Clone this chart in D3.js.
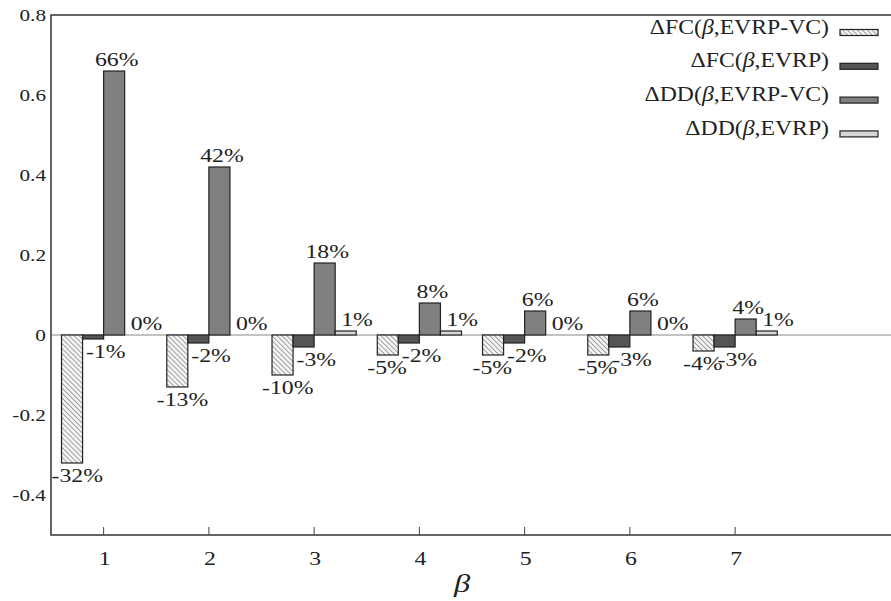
<!DOCTYPE html>
<html>
<head>
<meta charset="utf-8">
<script src="https://cdn.jsdelivr.net/npm/d3@7"></script>
<style>
  body { margin: 0; background: #fff; }
  text { font-family: "Liberation Serif", serif; fill: #222; }
</style>
</head>
<body>
<div id="chart"></div>
<script>
// data
var betas = [1, 2, 3, 4, 5, 6, 7];
var seriesNames = ["ΔFC(β,EVRP-VC)", "ΔFC(β,EVRP)", "ΔDD(β,EVRP-VC)", "ΔDD(β,EVRP)"];
var fcVC   = [-0.32, -0.13, -0.10, -0.05, -0.05, -0.05, -0.04];
var fcEVRP = [-0.01, -0.02, -0.03, -0.02, -0.02, -0.03, -0.03];
var ddVC   = [0.66, 0.42, 0.18, 0.08, 0.06, 0.06, 0.04];
var ddEVRP = [0.00, 0.00, 0.01, 0.01, 0.00, 0.00, 0.01];
var yTicks = [-0.4, -0.2, 0, 0.2, 0.4, 0.6, 0.8];

var allSeries = [fcVC, fcEVRP, ddVC, ddEVRP];

var W = 891, H = 601;
var pLeft = 51, pTop = 15, pBottom = 535, pRight = 893;
var stretch = 1.25; // the TeX font is wider than Times

var svg = d3.select('#chart').append('svg')
  .attr('width', W)
  .attr('height', H);

var defs = svg.append('defs');
var pat = defs.append('pattern')
  .attr('id', 'hatch')
  .attr('patternUnits', 'userSpaceOnUse')
  .attr('width', 3.5).attr('height', 3.5)
  .attr('patternTransform', 'rotate(-45)');
pat.append('rect').attr('width', 3.5).attr('height', 3.5).attr('fill', '#f4f4f4');
pat.append('line')
  .attr('x1', 0).attr('y1', 0).attr('x2', 0).attr('y2', 3.5)
  .attr('stroke', '#777').attr('stroke-width', 1.3);

var fills = ['url(#hatch)', '#555555', '#808080', '#d6d6d6'];

var x = d3.scaleLinear().domain([0.5, 8.5]).range([pLeft, pRight]);
var y = d3.scaleLinear().domain([-0.5, 0.8]).range([pBottom, pTop]);
var sub = d3.scaleBand().domain(d3.range(4)).range([-0.4, 0.4]);
var bw = x(sub.bandwidth()) - x(0);

// helper for stretched text
function stext(g, tx, ty, str, size, anchor, sx) {
  return g.append('text')
    .attr('transform', 'translate(' + tx + ',' + ty + ') scale(' + (sx || stretch) + ',1)')
    .attr('text-anchor', anchor || 'middle')
    .style('font-size', size + 'px')
    .text(str);
}

// zero line
svg.append('line')
  .attr('x1', pLeft).attr('x2', W)
  .attr('y1', y(0)).attr('y2', y(0))
  .attr('style', 'stroke: #888; stroke-width: 1.2px');

// bars
allSeries.forEach(function(vals, s) {
  svg.append('g').selectAll('.bar' + s)
    .data(vals).enter().append('rect')
    .attr('class', 'bar' + s)
    .attr('x', function(d, i) { return x(betas[i] + sub(s)); })
    .attr('width', bw)
    .attr('y', function(d) { return y(Math.max(0, d)); })
    .attr('height', function(d) { return Math.abs(y(d) - y(0)); })
    .attr('fill', fills[s])
    .attr('stroke', '#222')
    .attr('stroke-width', 1.2);
});

// value labels
var labelPos = [
  {anchor: 'start', dx: -10},
  {anchor: 'start', dx: 3.5},
  {anchor: 'middle', dx: bw / 2 + 2.5},
  {anchor: 'start', dx: 6}
];
var labels = svg.append('g');
allSeries.forEach(function(vals, s) {
  vals.forEach(function(d, i) {
    var bx = x(betas[i] + sub(s)) + labelPos[s].dx;
    var by = d >= 0 ? y(d) - 5 : y(d) + 19;
    stext(labels, bx, by, Math.round(d * 100) + '%', 19, labelPos[s].anchor);
  });
});

// frame
svg.append('path')
  .attr('d', 'M' + W + ',' + pTop + 'H' + pLeft + 'V' + pBottom + 'H' + W)
  .attr('fill', 'none')
  .attr('stroke', '#333')
  .attr('stroke-width', 1.5);

// x ticks
var xt = svg.append('g');
betas.forEach(function(b) {
  xt.append('line')
    .attr('x1', x(b)).attr('x2', x(b))
    .attr('y1', pBottom).attr('y2', pBottom - 8)
    .attr('style', 'stroke: #444; stroke-width: 1px');
  stext(xt, x(b) + 1, 565, String(b), 19, 'middle');
});

// y tick labels
var yt = svg.append('g');
yTicks.forEach(function(t) {
  stext(yt, 46, y(t) + 6, String(t), 17, 'end');
});

// axis title
stext(svg, 462, 592, 'β', 26, 'middle').style('font-style', 'italic');

// legend
var lg = svg.append('g');
seriesNames.forEach(function(name, s) {
  var ry = 32.5 + s * 33.8;
  lg.append('rect')
    .attr('x', 840).attr('y', ry - 3)
    .attr('width', 38).attr('height', 6)
    .attr('fill', fills[s])
    .attr('stroke', '#222')
    .attr('stroke-width', 1.2);
  var parts = name.split('β');
  var t = stext(lg, 829, ry + 1, '', 21, 'end', 1.13);
  t.append('tspan').text(parts[0]);
  t.append('tspan').style('font-style', 'italic').text('β');
  t.append('tspan').text(parts[1]);
});
</script>
</body>
</html>
